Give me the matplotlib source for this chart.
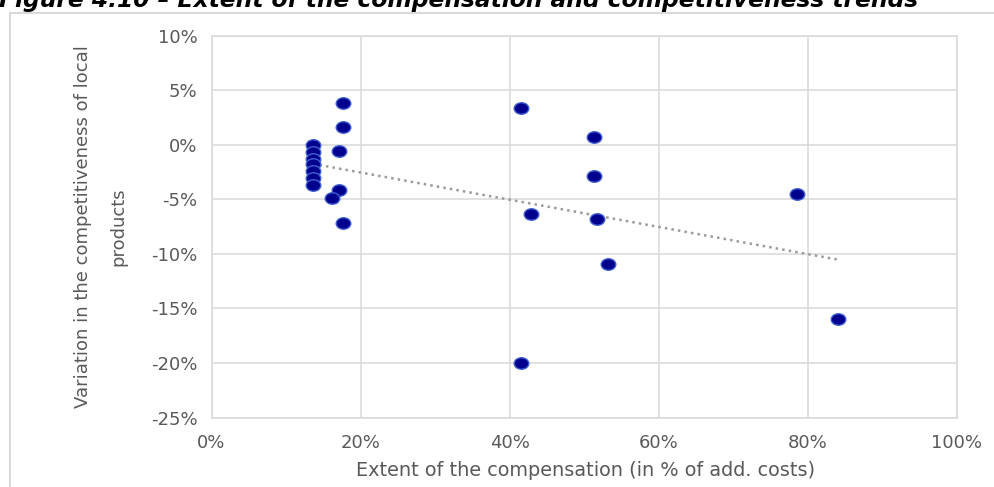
import numpy as np
import matplotlib
matplotlib.use("Agg")
import matplotlib.pyplot as plt
from matplotlib.path import Path
from matplotlib.transforms import Affine2D
from matplotlib.patches import Rectangle
from matplotlib.ticker import PercentFormatter

plt.rcParams["axes.unicode_minus"] = False

# extent of compensation (% of additional costs)
compensation = [13.6, 13.6, 13.6, 13.6, 13.6, 13.6, 13.6,
                17.7, 17.7, 17.1, 17.1, 16.2, 17.7,
                41.5, 51.3, 51.3, 51.7, 42.8, 53.2, 78.6, 84.0, 41.5]
# variation in competitiveness of local products (%)
competitiveness = [0.0, -0.7, -1.3, -1.8, -2.4, -3.1, -3.7,
                   3.8, 1.6, -0.6, -4.2, -4.9, -7.2,
                   3.4, 0.7, -2.9, -6.8, -6.4, -10.9, -4.5, -16.0, -20.0]

x_ticks = [0, 20, 40, 60, 80, 100]
y_ticks = [10, 5, 0, -5, -10, -15, -20, -25]

title = "Figure 4.10 \u2013 Extent of the compensation and competitiveness trends"
xlabel = "Extent of the compensation (in % of add. costs)"
ylabel_1 = "Variation in the competitiveness of local"
ylabel_2 = "products"

grey_txt = "#595959"
grid_col = "#d9d9d9"

fig = plt.figure(figsize=(9.95, 4.87), dpi=100)
ax = fig.add_axes([0.2126, 0.1427, 0.7492, 0.7844])

# outer chart frame (partly cut off like the source)
fig.patches.append(Rectangle((10 / 995, -0.1), 1.2, 1 - 13 / 487 + 0.1,
                             transform=fig.transFigure, fill=False,
                             edgecolor=grid_col, linewidth=1.5))

# slightly wide ellipse marker
ell = Path.unit_circle().transformed(Affine2D().scale(1.27, 1.0))

x = np.array(compensation)
y = np.array(competitiveness)
ax.plot(x, y, linestyle="none", marker=ell, markersize=10.5,
        markerfacecolor="#00008f", markeredgecolor="#3f5fd0",
        markeredgewidth=1.0, zorder=3)

# linear trend line (Excel style)
k, b = np.polyfit(x, y, 1)
xt = np.array([x.min(), x.max()])
ax.plot(xt, k * xt + b, color="#9a9a9a", linestyle=":", linewidth=1.8, zorder=2)

ax.set_xlim(0, 100)
ax.set_ylim(-25, 10)
ax.set_xticks(x_ticks)
ax.set_yticks(y_ticks)
ax.xaxis.set_major_formatter(PercentFormatter(decimals=0))
ax.yaxis.set_major_formatter(PercentFormatter(decimals=0))
ax.tick_params(length=0, labelsize=13, labelcolor=grey_txt)
ax.tick_params(axis="x", pad=12)
ax.tick_params(axis="y", pad=10)

ax.grid(True, color=grid_col, linewidth=1.1)
ax.set_axisbelow(True)
for s in ax.spines.values():
    s.set_color(grid_col)
    s.set_linewidth(1.1)

fig.text(586 / 995, 1 - 470 / 487, xlabel, ha="center", va="center",
         fontsize=13.9, color=grey_txt)
fig.text(83 / 995, 1 - 226.5 / 487, ylabel_1, ha="center", va="center",
         rotation=90, fontsize=13, color=grey_txt)
fig.text(118 / 995, 1 - 226.5 / 487, ylabel_2, ha="center", va="center",
         rotation=90, fontsize=13, color=grey_txt)

fig.text(-1 / 995, 1 - 7 / 487, title, ha="left", va="baseline",
         fontsize=16.8, fontweight="bold", fontstyle="italic", color="black")

fig.savefig("out.png", dpi=100)
